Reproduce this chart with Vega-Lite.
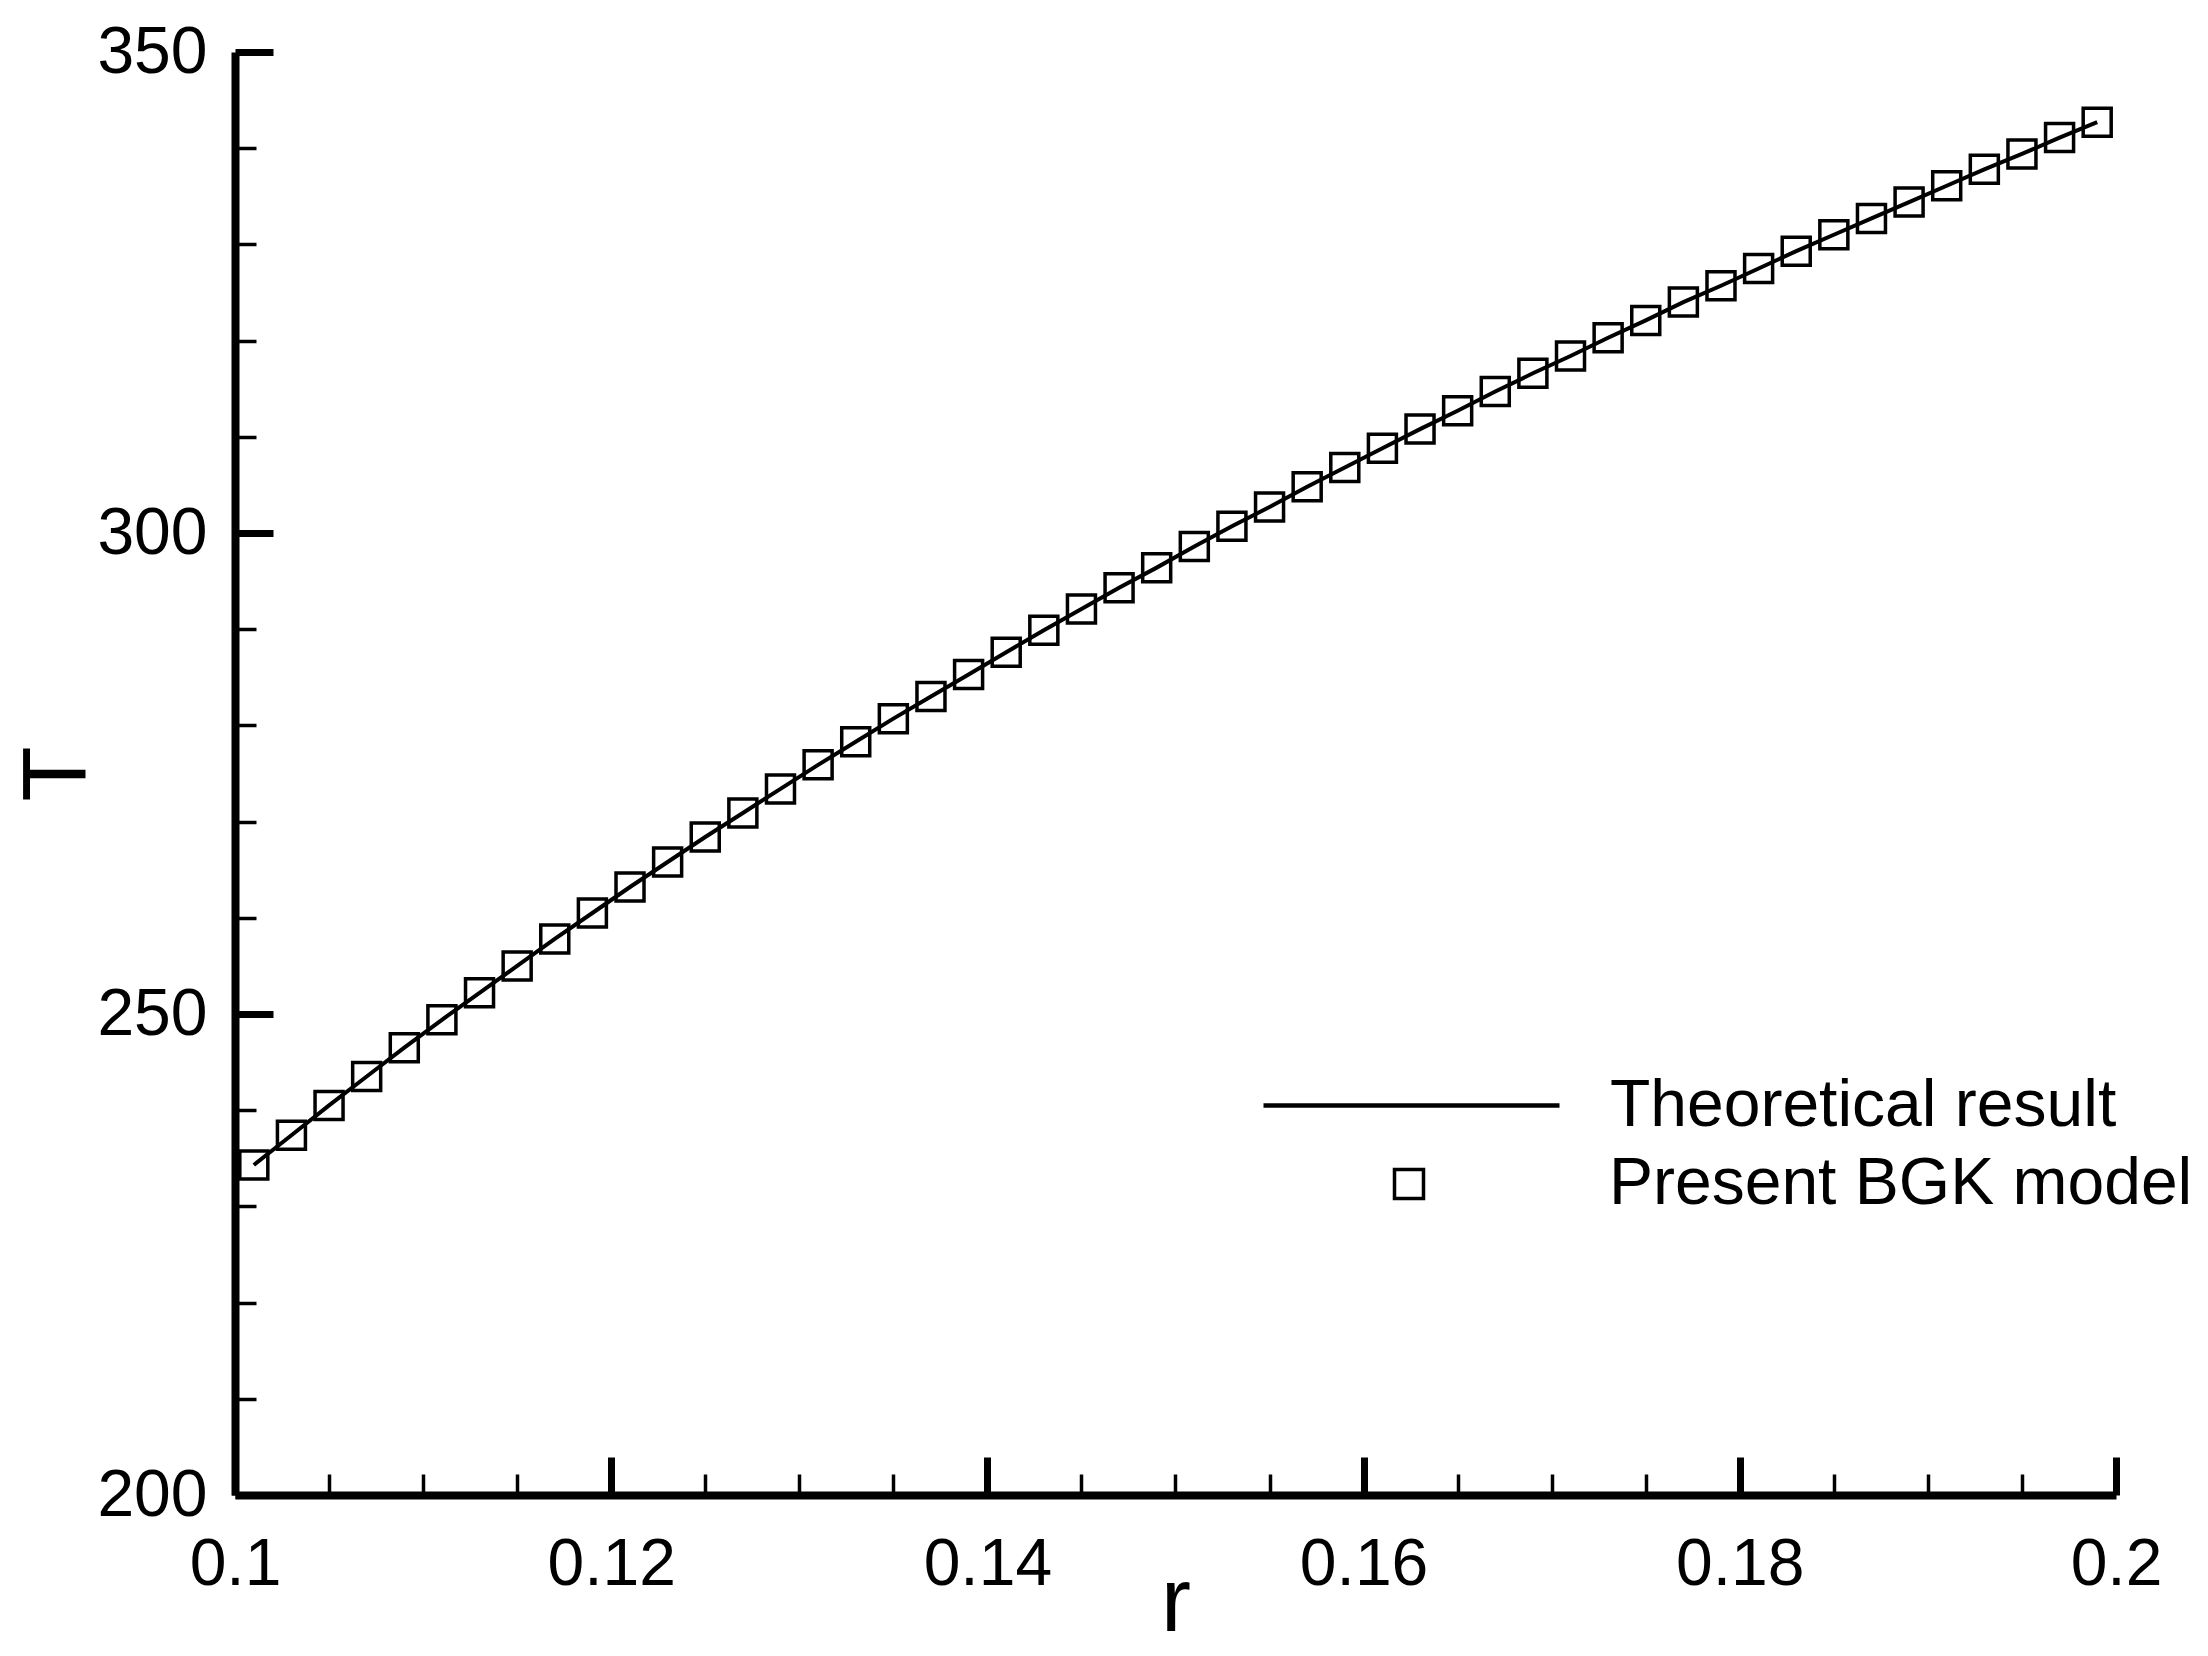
{
  "$schema": "https://vega.github.io/schema/vega-lite/v6.json",
  "width": 1881,
  "height": 1443,
  "autosize": {"type": "none"},
  "padding": {"left": 235, "top": 52, "right": 92, "bottom": 161},
  "background": "white",
  "data": {
    "values": [
      {"r": 0.101, "T": 234.3}, {"r": 0.103, "T": 237.4}, {"r": 0.105, "T": 240.5},
      {"r": 0.107, "T": 243.5}, {"r": 0.109, "T": 246.5}, {"r": 0.111, "T": 249.4},
      {"r": 0.113, "T": 252.2}, {"r": 0.115, "T": 255.0}, {"r": 0.117, "T": 257.8},
      {"r": 0.119, "T": 260.5}, {"r": 0.121, "T": 263.2}, {"r": 0.123, "T": 265.8},
      {"r": 0.125, "T": 268.4}, {"r": 0.127, "T": 270.9}, {"r": 0.129, "T": 273.4},
      {"r": 0.131, "T": 275.9}, {"r": 0.133, "T": 278.3}, {"r": 0.135, "T": 280.7},
      {"r": 0.137, "T": 283.0}, {"r": 0.139, "T": 285.3}, {"r": 0.141, "T": 287.6},
      {"r": 0.143, "T": 289.9}, {"r": 0.145, "T": 292.1}, {"r": 0.147, "T": 294.3},
      {"r": 0.149, "T": 296.4}, {"r": 0.151, "T": 298.6}, {"r": 0.153, "T": 300.7},
      {"r": 0.155, "T": 302.7}, {"r": 0.157, "T": 304.8}, {"r": 0.159, "T": 306.8},
      {"r": 0.161, "T": 308.8}, {"r": 0.163, "T": 310.8}, {"r": 0.165, "T": 312.7},
      {"r": 0.167, "T": 314.7}, {"r": 0.169, "T": 316.6}, {"r": 0.171, "T": 318.4},
      {"r": 0.173, "T": 320.3}, {"r": 0.175, "T": 322.1}, {"r": 0.177, "T": 324.0},
      {"r": 0.179, "T": 325.7}, {"r": 0.181, "T": 327.5}, {"r": 0.183, "T": 329.3},
      {"r": 0.185, "T": 331.0}, {"r": 0.187, "T": 332.7}, {"r": 0.189, "T": 334.4},
      {"r": 0.191, "T": 336.1}, {"r": 0.193, "T": 337.8}, {"r": 0.195, "T": 339.4},
      {"r": 0.197, "T": 341.1}, {"r": 0.199, "T": 342.7}
    ]
  },
  "layer": [
    {
      "mark": {"type": "line", "strokeWidth": 4},
      "encoding": {
        "x": {
          "field": "r",
          "type": "quantitative",
          "scale": {"domain": [0.1, 0.2], "nice": false, "zero": false},
          "axis": {
            "orient": "bottom",
            "values": [0.1, 0.12, 0.14, 0.16, 0.18, 0.2],
            "format": "~g",
            "tickSize": -38,
            "tickWidth": 7,
            "domainWidth": 8,
            "labelPadding": 75,
            "labelFlush": false,
            "labelOverlap": false,
            "title": "r",
            "titleFontSize": 90,
            "titleX": 940.5,
            "titleY": 135,
            "titleBaseline": "alphabetic",
            "titleAlign": "center"
          }
        },
        "y": {
          "field": "T",
          "type": "quantitative",
          "scale": {"domain": [200, 350], "nice": false, "zero": false},
          "axis": {
            "orient": "left",
            "values": [200, 250, 300, 350],
            "tickSize": -38,
            "tickWidth": 7,
            "domainWidth": 8,
            "labelPadding": 66,
            "labelBaseline": "middle",
            "title": "T",
            "titleFontSize": 90,
            "titleAngle": -90,
            "titleX": -150,
            "titleY": 721.5,
            "titleBaseline": "alphabetic",
            "titleAlign": "center"
          }
        },
        "color": {
          "datum": "Theoretical result",
          "scale": {"range": ["black"]},
          "legend": {
            "orient": "none",
            "legendX": 1026,
            "legendY": 903,
            "title": null,
            "padding": 0,
            "symbolType": "stroke",
            "symbolSize": 87616,
            "symbolStrokeWidth": 4.5,
            "labelOffset": 48
          }
        }
      }
    },
    {
      "mark": {"type": "point", "shape": "square", "filled": false, "color": "black", "size": 784, "strokeWidth": 3.5, "opacity": 1},
      "encoding": {
        "x": {
          "field": "r",
          "type": "quantitative",
          "axis": {
            "orient": "bottom",
            "values": [0.105, 0.11, 0.115, 0.125, 0.13, 0.135, 0.145, 0.15, 0.155, 0.165, 0.17, 0.175, 0.185, 0.19, 0.195],
            "tickSize": -21,
            "tickWidth": 3.5,
            "domain": false,
            "labels": false,
            "title": null
          }
        },
        "y": {
          "field": "T",
          "type": "quantitative",
          "axis": {
            "orient": "left",
            "values": [210, 220, 230, 240, 260, 270, 280, 290, 310, 320, 330, 340],
            "tickSize": -21,
            "tickWidth": 3.5,
            "domain": false,
            "labels": false,
            "title": null
          }
        },
        "shape": {
          "datum": "Present BGK model",
          "scale": {"range": ["square"]},
          "legend": {
            "orient": "none",
            "legendX": 1141,
            "legendY": 1099,
            "title": null,
            "padding": 0,
            "symbolSize": 841,
            "symbolStrokeWidth": 3.5,
            "symbolStrokeColor": "black",
            "symbolFillColor": "white",
            "labelOffset": 167
          }
        }
      }
    }
  ],
  "resolve": {"axis": {"x": "independent", "y": "independent"}},
  "config": {
    "view": {"stroke": null},
    "font": "Liberation Sans",
    "axis": {
      "grid": false,
      "domainColor": "black",
      "tickColor": "black",
      "labelColor": "black",
      "labelFont": "Liberation Sans",
      "labelFontSize": 66,
      "titleColor": "black",
      "titleFont": "Liberation Sans",
      "titleFontWeight": "normal"
    },
    "legend": {
      "labelFont": "Liberation Sans",
      "labelFontSize": 66,
      "labelColor": "black",
      "labelLimit": 0
    }
  }
}
